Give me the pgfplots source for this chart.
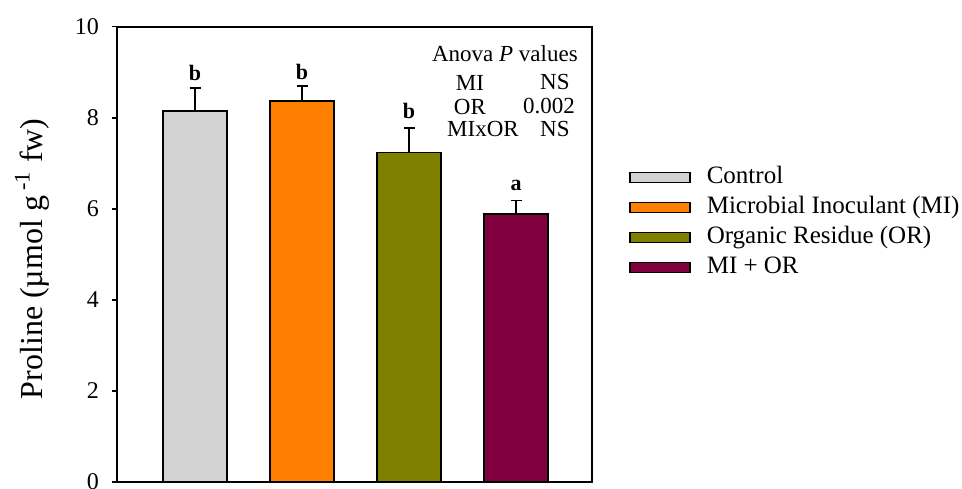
\documentclass[border=0pt]{standalone}
\usepackage{fontspec}
\setmainfont{Liberation Serif}
\usepackage{pgfplots}
\pgfplotsset{compat=1.18}
\definecolor{cctrl}{RGB}{211,211,211}
\definecolor{cmi}{RGB}{255,128,0}
\definecolor{cor}{RGB}{128,128,0}
\definecolor{cmior}{RGB}{128,0,64}
\begin{document}
\begin{tikzpicture}
\begin{axis}[name=ax, scale only axis, width=237.5pt, height=227.5pt,
  xmin=-0.73, xmax=3.71, ymin=0, ymax=10,
  ytick={0,2,4,6,8,10}, xtick=\empty,
  ytick pos=left, tick align=outside, major tick length=2.5pt,
  axis line style={line width=1pt},
  every tick/.style={line width=0.8pt, black},
  /pgf/number format/assume math mode=true,
  yticklabel style={font=\fontsize{12}{14}\selectfont, xshift=-3pt},
  ylabel={Proline (µmol g\,\textsuperscript{-1} fw)},
  ylabel style={font=\fontsize{16}{19}\selectfont, at={(axis description cs:-0.179,0.49)}, anchor=center},
  ybar, bar width=0.6, bar shift=0pt,
  legend image code/.code={\draw[#1, line width=0.7pt] (0pt,-2.5pt) rectangle (30pt,2.5pt);},
  legend cell align=left,
  legend style={draw=none, fill=none, at={(1,0.695)}, anchor=north west, xshift=18.5pt,
    inner sep=0pt, row sep=3.5pt, font=\fontsize{12.5}{15}\selectfont,
    nodes={inner xsep=0pt, inner ysep=0pt, text height=9pt, text depth=2.5pt},
    /tikz/every odd column/.append style={column sep=8pt}},
  error bars/y dir=plus, error bars/y explicit,
  error bars/error bar style={line width=0.7pt, black},
  error bars/error mark options={rotate=90, mark size=2.75pt, line width=0.7pt, black},
]
\addplot[fill=cctrl, draw=black, line width=0.7pt] coordinates {(0,8.15) +- (0,0.50)};
\addlegendentry{Control}
\addplot[fill=cmi, draw=black, line width=0.7pt] coordinates {(1,8.37) +- (0,0.33)};
\addlegendentry{Microbial Inoculant (MI)}
\addplot[fill=cor, draw=black, line width=0.7pt] coordinates {(2,7.23) +- (0,0.54)};
\addlegendentry{Organic Residue (OR)}
\addplot[fill=cmior, draw=black, line width=0.7pt] coordinates {(3,5.88) +- (0,0.30)};
\addlegendentry{MI + OR}
\node[font=\bfseries\fontsize{11}{12}\selectfont, anchor=base] at (axis cs:0,8.81) {b};
\node[font=\bfseries\fontsize{11}{12}\selectfont, anchor=base] at (axis cs:1,8.84) {b};
\node[font=\bfseries\fontsize{11}{12}\selectfont, anchor=base] at (axis cs:2,7.99) {b};
\node[font=\bfseries\fontsize{11}{12}\selectfont, anchor=base] at (axis cs:3,6.41) {a};
\begin{scope}[every node/.style={font=\fontsize{11.5}{13}\selectfont, anchor=base}]
\node at (axis cs:2.896,9.23) {Anova \textit{P} values};
\node at (axis cs:2.569,8.59) {MI};
\node at (axis cs:3.363,8.63) {NS};
\node at (axis cs:2.569,8.06) {OR};
\node at (axis cs:3.307,8.10) {0.002};
\node at (axis cs:2.691,7.58) {MIxOR};
\node at (axis cs:3.363,7.58) {NS};
\end{scope}
\end{axis}
\pgfresetboundingbox
\path (ax.south west) ++(-58.5pt,-3.15pt) coordinate (bl);
\useasboundingbox (bl) rectangle ++(481pt,244pt);
\end{tikzpicture}
\end{document}
